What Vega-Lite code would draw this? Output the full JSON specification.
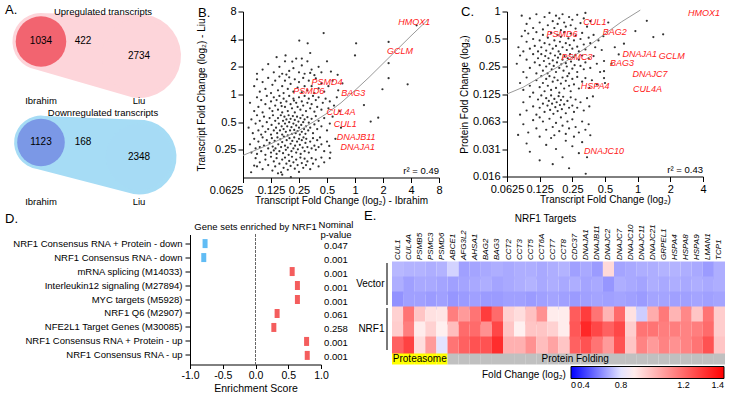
{
"$schema": "https://vega.github.io/schema/vega-lite/v6.json",
"background": "white",
"padding": {"left": 4, "top": 3.5, "right": 0, "bottom": 0},
"config": {
 "font": "Liberation Sans",
 "view": {"stroke": null},
 "axis": {"grid": false, "domainColor": "#000", "tickColor": "#000", "labelColor": "#000", "titleColor": "#000", "titleFontWeight": "normal", "labelFontSize": 11, "titleFontSize": 10, "tickSize": 5, "labelOverlap": false, "labelFlush": false},
 "title": {"fontWeight": "normal", "fontSize": 13, "color": "#000"},
 "legend": {"titleFontWeight": "normal", "titleColor": "#000", "labelColor": "#000"}
},
"datasets": {
 "venn": [
  {"dir": "Up", "set": "Ibrahim", "total": 1456, "only": 1034},
  {"dir": "Up", "set": "Liu", "total": 3156, "only": 2734},
  {"dir": "Down", "set": "Ibrahim", "total": 1291, "only": 1123},
  {"dir": "Down", "set": "Liu", "total": 2516, "only": 2348}
 ],
 "overlap": [{"dir": "Up", "n": 422}, {"dir": "Down", "n": 168}],
 "vennTitles": [{"dir": "Up", "title": "Upregulated transcripts"}, {"dir": "Down", "title": "Downregulated transcripts"}],
 "ptsB": [
  {"x":-1.12,"y":2.22},{"x":-1.99,"y":1.95},{"x":-1.69,"y":1.85},{"x":0.04,"y":1.85},{"x":1.2,"y":1.9},{"x":-2.48,"y":1.41},{"x":-2.24,"y":1.19},{"x":0.0,"y":1.41},{"x":1.2,"y":1.13},{"x":-1.6,"y":1.5},{"x":-1.9,"y":1.3},{"x":2.2,"y":2.5},{"x":1.2,"y":0.59},{"x":1.88,"y":0.37},{"x":0.98,"y":0.19},
  {"x":-3.3,"y":0.9},{"x":-3.1,"y":1.1},{"x":-2.9,"y":0.8},{"x":-2.7,"y":1.0},{"x":-2.6,"y":0.75},{"x":-2.5,"y":1.2},{"x":-2.35,"y":0.85},{"x":-2.2,"y":0.95},{"x":-2.1,"y":1.3},{"x":-2.0,"y":0.8},{"x":-1.9,"y":1.05},{"x":-1.8,"y":0.75},{"x":-1.7,"y":1.2},{"x":-1.55,"y":0.9},{"x":-1.45,"y":0.7},{"x":-1.3,"y":1.0},{"x":-1.2,"y":0.8},{"x":-0.86,"y":0.83},{"x":-0.62,"y":0.71},{"x":-1.0,"y":1.2},{"x":-2.8,"y":1.35},{"x":-3.5,"y":0.75},{"x":-2.45,"y":0.72},{"x":-1.6,"y":0.78},
  {"x":-3.6,"y":0.3},{"x":-3.5,"y":0.55},{"x":-3.4,"y":0.1},{"x":-3.3,"y":0.45},{"x":-3.2,"y":0.2},{"x":-3.1,"y":0.6},{"x":-3.0,"y":0.05},{"x":-2.95,"y":0.35},{"x":-2.85,"y":0.5},{"x":-2.75,"y":0.15},{"x":-2.7,"y":0.65},{"x":-2.6,"y":0.3},{"x":-2.55,"y":0.05},{"x":-2.5,"y":0.5},{"x":-2.4,"y":0.2},{"x":-2.35,"y":0.62},{"x":-2.3,"y":0.38},{"x":-2.2,"y":0.1},{"x":-2.15,"y":0.55},{"x":-2.05,"y":0.25},{"x":-2.0,"y":0.45},{"x":-1.9,"y":0.08},{"x":-1.85,"y":0.6},{"x":-1.8,"y":0.3},{"x":-1.7,"y":0.15},{"x":-1.65,"y":0.5},{"x":-1.55,"y":0.3},{"x":-1.45,"y":0.05},{"x":-1.4,"y":0.58},{"x":-1.3,"y":0.22},{"x":-1.2,"y":0.4},{"x":-1.1,"y":0.1},{"x":-0.95,"y":0.3},{"x":-0.8,"y":0.5},{"x":-0.6,"y":0.15},{"x":-0.45,"y":0.4},
  {"x":-3.75,"y":-0.3},{"x":-3.6,"y":-0.6},{"x":-3.5,"y":-0.1},{"x":-3.45,"y":-0.45},{"x":-3.35,"y":-0.2},{"x":-3.3,"y":-0.65},{"x":-3.2,"y":-0.35},{"x":-3.15,"y":-0.05},{"x":-3.05,"y":-0.5},{"x":-3.0,"y":-0.25},{"x":-2.95,"y":-0.6},{"x":-2.9,"y":-0.1},{"x":-2.85,"y":-0.4},{"x":-2.8,"y":-0.2},{"x":-2.75,"y":-0.55},{"x":-2.7,"y":-0.05},{"x":-2.65,"y":-0.3},{"x":-2.6,"y":-0.65},{"x":-2.55,"y":-0.15},{"x":-2.5,"y":-0.45},{"x":-2.45,"y":-0.25},{"x":-2.4,"y":-0.6},{"x":-2.35,"y":-0.05},{"x":-2.3,"y":-0.35},{"x":-2.25,"y":-0.5},{"x":-2.2,"y":-0.15},{"x":-2.15,"y":-0.65},{"x":-2.1,"y":-0.3},{"x":-2.05,"y":-0.45},{"x":-2.0,"y":-0.1},{"x":-1.95,"y":-0.55},{"x":-1.9,"y":-0.25},{"x":-1.85,"y":-0.4},{"x":-1.8,"y":-0.05},{"x":-1.75,"y":-0.6},{"x":-1.7,"y":-0.3},{"x":-1.65,"y":-0.15},{"x":-1.6,"y":-0.5},{"x":-1.55,"y":-0.35},{"x":-1.5,"y":-0.05},{"x":-1.45,"y":-0.62},{"x":-1.4,"y":-0.2},{"x":-1.35,"y":-0.45},{"x":-1.3,"y":-0.1},{"x":-1.2,"y":-0.55},{"x":-1.15,"y":-0.3},{"x":-1.05,"y":-0.15},{"x":-0.95,"y":-0.5},{"x":-0.9,"y":-0.25},{"x":-0.75,"y":-0.4},{"x":-0.65,"y":-0.1},{"x":0.32,"y":-0.38},{"x":-0.55,"y":-0.6},{"x":-2.62,"y":-0.42},{"x":-2.18,"y":-0.22},
  {"x":-3.8,"y":-1.2},{"x":-3.7,"y":-0.9},{"x":-3.65,"y":-1.4},{"x":-3.55,"y":-1.05},{"x":-3.5,"y":-0.75},{"x":-3.45,"y":-1.3},{"x":-3.4,"y":-0.95},{"x":-3.35,"y":-1.45},{"x":-3.3,"y":-1.15},{"x":-3.25,"y":-0.8},{"x":-3.2,"y":-1.35},{"x":-3.15,"y":-1.0},{"x":-3.1,"y":-1.25},{"x":-3.05,"y":-0.85},{"x":-3.0,"y":-1.45},{"x":-2.98,"y":-1.1},{"x":-2.93,"y":-0.75},{"x":-2.9,"y":-1.3},{"x":-2.85,"y":-0.95},{"x":-2.82,"y":-1.2},{"x":-2.78,"y":-1.4},{"x":-2.75,"y":-0.85},{"x":-2.72,"y":-1.05},{"x":-2.68,"y":-1.3},{"x":-2.65,"y":-0.75},{"x":-2.62,"y":-1.15},{"x":-2.6,"y":-1.45},{"x":-2.57,"y":-0.95},{"x":-2.55,"y":-1.25},{"x":-2.52,"y":-0.8},{"x":-2.5,"y":-1.05},{"x":-2.47,"y":-1.35},{"x":-2.45,"y":-0.9},{"x":-2.42,"y":-1.15},{"x":-2.4,"y":-1.48},{"x":-2.37,"y":-0.75},{"x":-2.35,"y":-1.0},{"x":-2.32,"y":-1.3},{"x":-2.3,"y":-0.88},{"x":-2.27,"y":-1.18},{"x":-2.25,"y":-1.42},{"x":-2.22,"y":-0.78},{"x":-2.2,"y":-1.05},{"x":-2.17,"y":-1.28},{"x":-2.15,"y":-0.92},{"x":-2.12,"y":-1.4},{"x":-2.1,"y":-1.12},{"x":-2.07,"y":-0.8},{"x":-2.05,"y":-1.32},{"x":-2.02,"y":-0.98},{"x":-2.0,"y":-1.2},{"x":-1.97,"y":-1.45},{"x":-1.95,"y":-0.85},{"x":-1.92,"y":-1.1},{"x":-1.9,"y":-1.35},{"x":-1.87,"y":-0.75},{"x":-1.85,"y":-1.0},{"x":-1.82,"y":-1.25},{"x":-1.8,"y":-0.9},{"x":-1.77,"y":-1.42},{"x":-1.75,"y":-1.15},{"x":-1.7,"y":-0.82},{"x":-1.67,"y":-1.3},{"x":-1.65,"y":-1.02},{"x":-1.6,"y":-1.2},{"x":-1.55,"y":-0.88},{"x":-1.5,"y":-1.4},{"x":-1.45,"y":-1.08},{"x":-1.4,"y":-0.78},{"x":-1.35,"y":-1.25},{"x":-1.3,"y":-0.95},{"x":-1.2,"y":-1.15},{"x":-1.1,"y":-0.85},{"x":-1.0,"y":-1.3},{"x":-0.9,"y":-1.05},{"x":-0.8,"y":-0.8},{"x":0.83,"y":-0.84},{"x":0.56,"y":-0.98},{"x":-0.5,"y":-1.2},
  {"x":-3.75,"y":-1.8},{"x":-3.7,"y":-2.1},{"x":-3.6,"y":-1.6},{"x":-3.55,"y":-1.95},{"x":-3.5,"y":-2.15},{"x":-3.45,"y":-1.7},{"x":-3.4,"y":-1.9},{"x":-3.35,"y":-2.05},{"x":-3.3,"y":-1.55},{"x":-3.25,"y":-1.85},{"x":-3.2,"y":-2.18},{"x":-3.15,"y":-1.65},{"x":-3.1,"y":-1.95},{"x":-3.05,"y":-1.75},{"x":-3.0,"y":-2.1},{"x":-2.97,"y":-1.58},{"x":-2.94,"y":-1.88},{"x":-2.9,"y":-2.02},{"x":-2.87,"y":-1.68},{"x":-2.84,"y":-1.95},{"x":-2.8,"y":-2.15},{"x":-2.77,"y":-1.55},{"x":-2.74,"y":-1.8},{"x":-2.7,"y":-2.05},{"x":-2.67,"y":-1.62},{"x":-2.64,"y":-1.9},{"x":-2.6,"y":-1.72},{"x":-2.57,"y":-2.12},{"x":-2.54,"y":-1.52},{"x":-2.5,"y":-1.85},{"x":-2.47,"y":-2.0},{"x":-2.44,"y":-1.65},{"x":-2.4,"y":-1.92},{"x":-2.37,"y":-2.18},{"x":-2.34,"y":-1.58},{"x":-2.3,"y":-1.78},{"x":-2.27,"y":-2.05},{"x":-2.24,"y":-1.68},{"x":-2.2,"y":-1.95},{"x":-2.17,"y":-1.55},{"x":-2.14,"y":-1.85},{"x":-2.1,"y":-2.1},{"x":-2.07,"y":-1.7},{"x":-2.04,"y":-1.98},{"x":-2.0,"y":-1.6},{"x":-1.97,"y":-1.82},{"x":-1.94,"y":-2.15},{"x":-1.9,"y":-1.65},{"x":-1.87,"y":-1.92},{"x":-1.84,"y":-1.55},{"x":-1.8,"y":-2.05},{"x":-1.77,"y":-1.75},{"x":-1.74,"y":-1.6},{"x":-1.7,"y":-1.9},{"x":-1.65,"y":-2.1},{"x":-1.6,"y":-1.7},{"x":-1.55,"y":-1.95},{"x":-1.5,"y":-1.58},{"x":-1.45,"y":-1.85},{"x":-1.4,"y":-2.0},{"x":-1.35,"y":-1.65},{"x":-1.3,"y":-1.9},{"x":-1.25,"y":-1.55},{"x":-1.2,"y":-1.8},{"x":-1.1,"y":-2.05},{"x":-1.0,"y":-1.7},{"x":-0.92,"y":-1.86},{"x":-0.88,"y":-2.1},{"x":-0.7,"y":-1.6},
  {"x":-3.71,"y":-2.81},{"x":-3.6,"y":-2.57},{"x":-3.55,"y":-2.3},{"x":-3.4,"y":-2.45},{"x":-3.3,"y":-2.7},{"x":-3.2,"y":-2.35},{"x":-3.1,"y":-2.55},{"x":-3.0,"y":-2.25},{"x":-2.95,"y":-2.75},{"x":-2.9,"y":-2.42},{"x":-2.85,"y":-2.6},{"x":-2.8,"y":-2.3},{"x":-2.75,"y":-2.85},{"x":-2.7,"y":-2.5},{"x":-2.64,"y":-2.81},{"x":-2.6,"y":-2.35},{"x":-2.55,"y":-2.65},{"x":-2.5,"y":-2.28},{"x":-2.45,"y":-2.5},{"x":-2.4,"y":-2.72},{"x":-2.35,"y":-2.4},{"x":-2.3,"y":-2.58},{"x":-2.29,"y":-2.99},{"x":-2.25,"y":-2.25},{"x":-2.2,"y":-2.45},{"x":-2.15,"y":-2.68},{"x":-2.1,"y":-2.35},{"x":-2.05,"y":-2.55},{"x":-2.0,"y":-2.8},{"x":-1.95,"y":-2.28},{"x":-1.9,"y":-2.48},{"x":-1.85,"y":-2.65},{"x":-1.8,"y":-2.32},{"x":-1.75,"y":-2.55},{"x":-1.7,"y":-2.42},{"x":-1.6,"y":-2.7},{"x":-1.55,"y":-2.3},{"x":-1.5,"y":-2.5},{"x":-1.4,"y":-2.35},{"x":-1.3,"y":-2.6},{"x":-1.2,"y":-2.28},{"x":-1.1,"y":-2.45},{"x":-0.9,"y":-2.3},{"x":-3.5,"y":-2.6},{"x":-2.6,"y":-2.9}
 ],
 "lineB": [{"x":-4,"y":-2.2},{"x":-3,"y":-1.78},{"x":-2,"y":-1.3},{"x":-1.5,"y":-1.0},{"x":-1,"y":-0.68},{"x":-0.5,"y":-0.3},{"x":0,"y":0.15},{"x":0.5,"y":0.62},{"x":1,"y":1.12},{"x":1.5,"y":1.62},{"x":2,"y":2.12},{"x":2.6,"y":2.7}],
 "labB": [
  {"gene":"HMOX1","x":2.12,"y":2.62},{"gene":"GCLM","x":1.61,"y":1.59},{"gene":"PSMD4","x":-1.0,"y":0.46},{"gene":"PSMD6","x":-1.65,"y":0.12},{"gene":"BAG3","x":-0.06,"y":0.04},{"gene":"CUL4A","x":-0.5,"y":-0.62},{"gene":"CUL1","x":-0.35,"y":-1.08},{"gene":"DNAJB11","x":0.04,"y":-1.53},{"gene":"DNAJA1","x":0.1,"y":-1.89}
 ],
 "ptsC": [
  {"x":-3.55,"y":-0.15},{"x":-3.4,"y":-0.45},{"x":-3.3,"y":-0.25},{"x":-3.2,"y":-0.6},{"x":-3.1,"y":-0.1},{"x":-3.0,"y":-0.4},{"x":-2.9,"y":-0.65},{"x":-2.85,"y":-0.2},{"x":-2.75,"y":-0.5},{"x":-2.7,"y":-0.05},{"x":-2.6,"y":-0.35},{"x":-2.55,"y":-0.6},{"x":-2.5,"y":-0.15},{"x":-2.45,"y":-0.45},{"x":-2.4,"y":-0.25},{"x":-2.35,"y":-0.68},{"x":-2.3,"y":-0.1},{"x":-2.25,"y":-0.4},{"x":-2.2,"y":-0.55},{"x":-2.1,"y":-0.2},{"x":-2.05,"y":-0.5},{"x":-2.0,"y":-0.3},{"x":-1.9,"y":-0.62},{"x":-1.85,"y":-0.12},{"x":-1.75,"y":-0.42},{"x":-1.65,"y":-0.25},{"x":-1.55,"y":-0.55},{"x":-1.45,"y":-0.35},{"x":-1.6,"y":-0.05},{"x":-3.45,"y":-0.7},
  {"x":-3.65,"y":-1.3},{"x":-3.55,"y":-0.9},{"x":-3.5,"y":-1.45},{"x":-3.4,"y":-1.1},{"x":-3.35,"y":-0.8},{"x":-3.3,"y":-1.35},{"x":-3.2,"y":-1.0},{"x":-3.15,"y":-1.25},{"x":-3.1,"y":-0.75},{"x":-3.05,"y":-1.45},{"x":-3.0,"y":-1.05},{"x":-2.95,"y":-1.3},{"x":-2.9,"y":-0.85},{"x":-2.85,"y":-1.15},{"x":-2.8,"y":-1.42},{"x":-2.75,"y":-0.95},{"x":-2.7,"y":-1.2},{"x":-2.65,"y":-0.78},{"x":-2.6,"y":-1.35},{"x":-2.55,"y":-1.05},{"x":-2.5,"y":-1.25},{"x":-2.45,"y":-0.85},{"x":-2.42,"y":-1.45},{"x":-2.38,"y":-1.1},{"x":-2.35,"y":-0.92},{"x":-2.3,"y":-1.3},{"x":-2.25,"y":-0.75},{"x":-2.2,"y":-1.15},{"x":-2.17,"y":-1.4},{"x":-2.12,"y":-0.98},{"x":-2.08,"y":-1.22},{"x":-2.05,"y":-0.8},{"x":-2.0,"y":-1.35},{"x":-1.95,"y":-1.05},{"x":-1.9,"y":-0.88},{"x":-1.85,"y":-1.28},{"x":-1.8,"y":-1.45},{"x":-1.75,"y":-1.0},{"x":-1.7,"y":-0.78},{"x":-1.65,"y":-1.2},{"x":-1.6,"y":-1.38},{"x":-1.5,"y":-0.95},{"x":-1.45,"y":-1.15},{"x":-1.35,"y":-0.85},{"x":-1.3,"y":-1.3},{"x":-1.2,"y":-1.05},{"x":-1.1,"y":-1.4},{"x":-1.05,"y":-0.9},{"x":-0.9,"y":-0.4},{"x":-0.7,"y":-1.3},{"x":-0.42,"y":-1.17},{"x":-0.07,"y":-0.71},{"x":0.28,"y":-0.34},{"x":0.48,"y":-0.93},{"x":0.78,"y":-0.83},
  {"x":-3.7,"y":-1.9},{"x":-3.6,"y":-1.6},{"x":-3.5,"y":-2.2},{"x":-3.4,"y":-1.75},{"x":-3.3,"y":-2.05},{"x":-3.2,"y":-1.55},{"x":-3.15,"y":-1.85},{"x":-3.1,"y":-2.25},{"x":-3.05,"y":-1.7},{"x":-3.0,"y":-1.95},{"x":-2.95,"y":-1.55},{"x":-2.9,"y":-2.15},{"x":-2.87,"y":-1.8},{"x":-2.83,"y":-1.62},{"x":-2.8,"y":-2.0},{"x":-2.76,"y":-2.25},{"x":-2.73,"y":-1.7},{"x":-2.7,"y":-1.9},{"x":-2.67,"y":-1.52},{"x":-2.63,"y":-2.1},{"x":-2.6,"y":-1.78},{"x":-2.57,"y":-1.98},{"x":-2.53,"y":-1.6},{"x":-2.5,"y":-2.2},{"x":-2.47,"y":-1.85},{"x":-2.44,"y":-1.68},{"x":-2.4,"y":-2.05},{"x":-2.37,"y":-1.55},{"x":-2.34,"y":-1.92},{"x":-2.3,"y":-1.75},{"x":-2.27,"y":-2.15},{"x":-2.24,"y":-1.62},{"x":-2.2,"y":-1.88},{"x":-2.17,"y":-2.0},{"x":-2.14,"y":-1.7},{"x":-2.1,"y":-2.25},{"x":-2.07,"y":-1.55},{"x":-2.04,"y":-1.82},{"x":-2.0,"y":-2.08},{"x":-1.97,"y":-1.65},{"x":-1.93,"y":-1.95},{"x":-1.9,"y":-1.58},{"x":-1.85,"y":-2.2},{"x":-1.8,"y":-1.75},{"x":-1.75,"y":-1.98},{"x":-1.7,"y":-1.6},{"x":-1.65,"y":-2.1},{"x":-1.6,"y":-1.85},{"x":-1.5,"y":-1.7},{"x":-1.45,"y":-2.05},{"x":-1.35,"y":-1.62},{"x":-1.25,"y":-1.9},{"x":-1.15,"y":-2.2},{"x":-1.03,"y":-1.8},{"x":-1.03,"y":-2.17},{"x":-0.58,"y":-1.56},{"x":-0.8,"y":-1.9},
  {"x":-3.6,"y":-2.6},{"x":-3.5,"y":-2.85},{"x":-3.4,"y":-2.4},{"x":-3.3,"y":-2.7},{"x":-3.2,"y":-2.95},{"x":-3.1,"y":-2.5},{"x":-3.0,"y":-2.75},{"x":-2.95,"y":-2.35},{"x":-2.9,"y":-2.6},{"x":-2.85,"y":-2.9},{"x":-2.8,"y":-2.45},{"x":-2.75,"y":-2.7},{"x":-2.7,"y":-2.35},{"x":-2.65,"y":-2.85},{"x":-2.6,"y":-2.55},{"x":-2.55,"y":-2.4},{"x":-2.5,"y":-2.78},{"x":-2.45,"y":-2.5},{"x":-2.4,"y":-2.95},{"x":-2.35,"y":-2.62},{"x":-2.3,"y":-2.4},{"x":-2.25,"y":-2.8},{"x":-2.2,"y":-2.52},{"x":-2.15,"y":-2.35},{"x":-2.1,"y":-2.7},{"x":-2.05,"y":-2.9},{"x":-2.0,"y":-2.45},{"x":-1.95,"y":-2.65},{"x":-1.85,"y":-2.38},{"x":-1.8,"y":-2.8},{"x":-1.7,"y":-2.55},{"x":-1.6,"y":-2.42},{"x":-1.48,"y":-2.78},{"x":-1.4,"y":-2.5},{"x":-1.25,"y":-2.65},{"x":-1.03,"y":-2.42},{"x":-1.0,"y":-2.6},
  {"x":-3.5,"y":-3.3},{"x":-3.4,"y":-3.6},{"x":-3.3,"y":-3.1},{"x":-3.2,"y":-3.45},{"x":-3.1,"y":-3.75},{"x":-3.05,"y":-3.2},{"x":-3.0,"y":-3.5},{"x":-2.95,"y":-3.05},{"x":-2.9,"y":-3.35},{"x":-2.85,"y":-3.65},{"x":-2.8,"y":-3.15},{"x":-2.76,"y":-3.42},{"x":-2.72,"y":-3.25},{"x":-2.68,"y":-3.58},{"x":-2.65,"y":-3.05},{"x":-2.62,"y":-3.35},{"x":-2.58,"y":-3.72},{"x":-2.55,"y":-3.18},{"x":-2.52,"y":-3.48},{"x":-2.48,"y":-3.3},{"x":-2.45,"y":-3.62},{"x":-2.42,"y":-3.08},{"x":-2.38,"y":-3.4},{"x":-2.35,"y":-3.22},{"x":-2.32,"y":-3.55},{"x":-2.28,"y":-3.1},{"x":-2.25,"y":-3.38},{"x":-2.2,"y":-3.7},{"x":-2.15,"y":-3.25},{"x":-2.1,"y":-3.5},{"x":-2.05,"y":-3.12},{"x":-2.0,"y":-3.42},{"x":-1.95,"y":-3.65},{"x":-1.9,"y":-3.2},{"x":-1.85,"y":-3.5},{"x":-1.75,"y":-3.3},{"x":-1.65,"y":-3.6},{"x":-1.55,"y":-3.15},{"x":-1.37,"y":-3.09},{"x":-1.48,"y":-3.45},{"x":-3.6,"y":-3.75},
  {"x":-3.66,"y":-4.49},{"x":-3.5,"y":-4.1},{"x":-3.35,"y":-4.4},{"x":-3.2,"y":-3.95},{"x":-3.1,"y":-4.25},{"x":-3.0,"y":-4.55},{"x":-2.9,"y":-4.0},{"x":-2.8,"y":-4.3},{"x":-2.7,"y":-3.9},{"x":-2.6,"y":-4.2},{"x":-2.55,"y":-4.5},{"x":-2.5,"y":-4.05},{"x":-2.4,"y":-4.35},{"x":-2.35,"y":-3.85},{"x":-2.3,"y":-4.15},{"x":-2.2,"y":-4.45},{"x":-2.15,"y":-4.0},{"x":-2.1,"y":-4.25},{"x":-2.0,"y":-3.92},{"x":-1.95,"y":-4.55},{"x":-1.9,"y":-4.2},{"x":-1.8,"y":-4.4},{"x":-1.7,"y":-4.0},{"x":-1.6,"y":-4.3},{"x":-1.5,"y":-4.1},{"x":-1.45,"y":-4.5},{"x":-2.65,"y":-4.6},{"x":-3.0,"y":-3.85},
  {"x":-3.3,"y":-5.1},{"x":-3.0,"y":-5.41},{"x":-2.1,"y":-5.7},{"x":-1.59,"y":-5.9},{"x":-2.8,"y":-4.85},{"x":-2.5,"y":-5.0},{"x":-2.3,"y":-5.3},{"x":-2.0,"y":-4.9},{"x":-1.8,"y":-5.15},{"x":-1.7,"y":-4.75},{"x":-3.4,"y":-4.8},{"x":-2.6,"y":-5.55},{"x":-1.55,"y":-5.3},{"x":-2.2,"y":-4.7}
 ],
 "lineC": [{"x":-4,"y":-3.0},{"x":-3.5,"y":-2.75},{"x":-3,"y":-2.4},{"x":-2.5,"y":-2.05},{"x":-2,"y":-1.66},{"x":-1.5,"y":-1.25},{"x":-1,"y":-0.81},{"x":-0.5,"y":-0.38},{"x":0.08,"y":0.05}],
 "labC": [
  {"gene":"HMOX1","x":2.03,"y":-0.07},{"gene":"CUL1","x":-1.31,"y":-0.38},{"gene":"PSMD6","x":-2.32,"y":-0.83},{"gene":"BAG2","x":-0.7,"y":-0.74},{"gene":"PSMC3","x":-1.86,"y":-1.65},{"gene":"DNAJA1","x":0.06,"y":-1.53},{"gene":"GCLM","x":1.04,"y":-1.62},{"gene":"BAG3","x":-0.48,"y":-1.87},{"gene":"DNAJC7","x":0.38,"y":-2.26},{"gene":"HSPA4","x":-1.3,"y":-2.7},{"gene":"CUL4A","x":0.3,"y":-2.81},{"gene":"DNAJC10","x":-1.03,"y":-5.07}
 ],
 "gsea": [
  {"set":"NRF1 Consensus RNA + Protein - down","score":-0.77,"p":"0.047","dir":"down"},
  {"set":"NRF1 Consensus RNA - down","score":-0.79,"p":"0.001","dir":"down"},
  {"set":"mRNA splicing (M14033)","score":0.56,"p":"0.001","dir":"up"},
  {"set":"Interleukin12 signaling (M27894)","score":0.64,"p":"0.001","dir":"up"},
  {"set":"MYC targets (M5928)","score":0.64,"p":"0.001","dir":"up"},
  {"set":"NRF1 Q6 (M2907)","score":0.33,"p":"0.061","dir":"up"},
  {"set":"NFE2L1 Target Genes (M30085)","score":0.28,"p":"0.258","dir":"up"},
  {"set":"NRF1 Consensus RNA + Protein - up","score":0.78,"p":"0.001","dir":"up"},
  {"set":"NRF1 Consensus RNA - up","score":0.79,"p":"0.001","dir":"up"}
 ],
 "heat": [
  {"gene":"CUL1","group":"Proteasome","V1":0.72,"V2":0.70,"V3":0.64,"N1":0.97,"N2":0.98,"N3":1.22},
  {"gene":"CUL4A","group":"Proteasome","V1":0.71,"V2":0.67,"V3":0.67,"N1":1.18,"N2":1.16,"N3":1.28},
  {"gene":"PSMB5","group":"Proteasome","V1":0.71,"V2":0.69,"V3":0.67,"N1":1.0,"N2":0.9,"N3":0.94},
  {"gene":"PSMC3","group":"Proteasome","V1":0.70,"V2":0.69,"V3":0.66,"N1":0.93,"N2":0.97,"N3":1.1},
  {"gene":"PSMD6","group":"Proteasome","V1":0.71,"V2":0.68,"V3":0.67,"N1":0.92,"N2":0.89,"N3":0.8},
  {"gene":"ABCE1","group":"Protein Folding","V1":0.77,"V2":0.67,"V3":0.65,"N1":1.16,"N2":1.02,"N3":1.18},
  {"gene":"AFG3L2","group":"Protein Folding","V1":0.67,"V2":0.68,"V3":0.66,"N1":1.1,"N2":1.2,"N3":1.22},
  {"gene":"AHSA1","group":"Protein Folding","V1":0.68,"V2":0.69,"V3":0.67,"N1":1.18,"N2":1.2,"N3":1.25},
  {"gene":"BAG2","group":"Protein Folding","V1":0.69,"V2":0.70,"V3":0.66,"N1":1.29,"N2":1.12,"N3":1.25},
  {"gene":"BAG3","group":"Protein Folding","V1":0.70,"V2":0.68,"V3":0.66,"N1":1.2,"N2":1.27,"N3":1.32},
  {"gene":"CCT2","group":"Protein Folding","V1":0.69,"V2":0.69,"V3":0.67,"N1":0.97,"N2":1.0,"N3":1.05},
  {"gene":"CCT3","group":"Protein Folding","V1":0.70,"V2":0.70,"V3":0.67,"N1":0.94,"N2":0.89,"N3":1.05},
  {"gene":"CCT5","group":"Protein Folding","V1":0.70,"V2":0.71,"V3":0.66,"N1":1.01,"N2":1.0,"N3":1.12},
  {"gene":"CCT6A","group":"Protein Folding","V1":0.69,"V2":0.69,"V3":0.67,"N1":1.12,"N2":1.0,"N3":1.02},
  {"gene":"CCT7","group":"Protein Folding","V1":0.70,"V2":0.70,"V3":0.68,"N1":0.9,"N2":0.97,"N3":1.08},
  {"gene":"CCT8","group":"Protein Folding","V1":0.71,"V2":0.69,"V3":0.67,"N1":0.9,"N2":0.9,"N3":1.0},
  {"gene":"CDC37","group":"Protein Folding","V1":0.67,"V2":0.70,"V3":0.66,"N1":1.23,"N2":1.24,"N3":1.22},
  {"gene":"DNAJA1","group":"Protein Folding","V1":0.69,"V2":0.68,"V3":0.67,"N1":1.29,"N2":1.33,"N3":1.25},
  {"gene":"DNAJB11","group":"Protein Folding","V1":0.66,"V2":0.69,"V3":0.68,"N1":1.18,"N2":1.27,"N3":1.18},
  {"gene":"DNAJC2","group":"Protein Folding","V1":0.95,"V2":0.65,"V3":0.67,"N1":1.04,"N2":1.22,"N3":1.1},
  {"gene":"DNAJC7","group":"Protein Folding","V1":0.68,"V2":0.70,"V3":0.68,"N1":1.2,"N2":1.27,"N3":1.25},
  {"gene":"DNAJC10","group":"Protein Folding","V1":0.69,"V2":0.69,"V3":0.67,"N1":0.93,"N2":0.98,"N3":1.0},
  {"gene":"DNAJC11","group":"Protein Folding","V1":0.70,"V2":0.68,"V3":0.66,"N1":0.76,"N2":1.18,"N3":1.15},
  {"gene":"DNAJC21","group":"Protein Folding","V1":0.70,"V2":0.70,"V3":0.68,"N1":1.06,"N2":1.18,"N3":1.1},
  {"gene":"GRPEL1","group":"Protein Folding","V1":0.71,"V2":0.69,"V3":0.68,"N1":1.17,"N2":1.16,"N3":1.15},
  {"gene":"HSPA4","group":"Protein Folding","V1":0.71,"V2":0.70,"V3":0.67,"N1":1.04,"N2":1.16,"N3":1.12},
  {"gene":"HSPA8","group":"Protein Folding","V1":0.70,"V2":0.69,"V3":0.67,"N1":1.14,"N2":1.15,"N3":1.15},
  {"gene":"HSPA9","group":"Protein Folding","V1":0.69,"V2":0.70,"V3":0.68,"N1":1.0,"N2":1.16,"N3":1.18},
  {"gene":"LMAN1","group":"Protein Folding","V1":0.66,"V2":0.69,"V3":0.67,"N1":1.18,"N2":1.2,"N3":1.25},
  {"gene":"TCP1","group":"Protein Folding","V1":0.70,"V2":0.70,"V3":0.68,"N1":0.98,"N2":0.98,"N3":1.0}
 ]
},
"spacing": 223,
"bounds": "flush",
"resolve": {"scale": {"color": "independent", "size": "independent"}},
"vconcat": [
 {
  "hconcat": [
   {
    "width": 170, "height": 166,
    "resolve": {"scale": {"color": "independent", "size": "independent"}},
    "encoding": {
     "x": {"field": "set", "type": "nominal", "scale": {"type": "point", "domain": ["Ibrahim", "Liu"], "padding": 0.367}, "axis": null},
     "y": {"field": "dir", "type": "nominal", "scale": {"type": "band", "domain": ["Up", "Down"], "paddingInner": 0.856, "paddingOuter": 0.25, "align": 0.594}, "axis": null}
    },
    "layer": [
     {"data": {"name": "venn"}, "mark": {"type": "trail"},
      "encoding": {
       "yOffset": {"field": "set", "type": "nominal", "scale": {"domain": ["Ibrahim", "Liu"], "paddingInner": 0, "paddingOuter": 0}},
       "size": {"field": "total", "type": "quantitative", "scale": {"type": "sqrt", "domain": [0, 3156], "range": [0, 84]}, "legend": null},
       "color": {"field": "dir", "type": "nominal", "scale": {"domain": ["Up", "Down"], "range": ["#fdd5da", "#a6dcf5"]}, "legend": null}
      }},
     {"data": {"name": "venn"}, "transform": [{"filter": "datum.set == 'Ibrahim'"}],
      "mark": {"type": "circle", "opacity": 1},
      "encoding": {
       "yOffset": {"field": "set", "type": "nominal"},
       "size": {"field": "total", "type": "quantitative", "scale": {"domain": [0, 3156], "range": [0, 5542]}, "legend": null},
       "color": {"field": "dir", "type": "nominal", "scale": {"domain": ["Up", "Down"], "range": ["#f26470", "#7b98e6"]}, "legend": null}
      }},
     {"data": {"name": "venn"}, "transform": [{"filter": "datum.set == 'Liu'"}],
      "mark": {"type": "circle", "opacity": 0.53},
      "encoding": {
       "yOffset": {"field": "set", "type": "nominal"},
       "size": {"field": "total", "type": "quantitative", "scale": {"domain": [0, 3156], "range": [0, 5542]}, "legend": null},
       "color": {"field": "dir", "type": "nominal", "scale": {"domain": ["Up", "Down"], "range": ["#fdd5da", "#a6dcf5"]}, "legend": null}
      }},
     {"data": {"name": "venn"},
      "mark": {"type": "text", "fontSize": 10, "color": "#000"},
      "encoding": {"yOffset": {"field": "set", "type": "nominal"}, "text": {"field": "only"}}},
     {"data": {"name": "overlap"},
      "mark": {"type": "text", "fontSize": 10, "dx": -56, "dy": -8, "color": "#000"},
      "encoding": {"x": {"datum": "Liu"}, "text": {"field": "n"}}},
     {"data": {"name": "vennTitles"},
      "mark": {"type": "text", "fontSize": 9.5, "dx": -36, "dy": -37, "color": "#000"},
      "encoding": {"x": {"datum": "Liu"}, "text": {"field": "title"}}},
     {"data": {"name": "venn"},
      "mark": {"type": "text", "fontSize": 9.5, "dy": 52, "color": "#000"},
      "encoding": {"text": {"field": "set"}}},
     {"data": {"values": [{"panel": "A."}]},
      "mark": {"type": "text", "fontSize": 13, "align": "left", "baseline": "middle", "dx": -36, "dy": -38.5, "color": "#000"},
      "encoding": {"x": {"datum": "Ibrahim"}, "y": {"datum": "Up"}, "text": {"field": "panel"}}}
    ]
   },
   {
    "width": 196, "height": 166,
    "layer": [
     {"data": {"name": "ptsB"}, "mark": {"type": "circle", "size": 5, "color": "#333", "opacity": 1},
      "encoding": {
       "x": {"field": "x", "type": "quantitative", "scale": {"domain": [-4, 3], "nice": false, "zero": false},
             "axis": {"values": [-4, -3, -2, -1, 0, 1, 2, 3], "tickCount": 20, "labelOverlap": false, "labelExpr": "'' + pow(2, datum.value)", "title": "Transcript Fold Change (log₂) - Ibrahim", "titlePadding": 0, "labelAlign": {"condition": {"test": "datum.value == -4", "value": "right"}, "value": "center"}}},
       "y": {"field": "y", "type": "quantitative", "scale": {"domain": [-3, 3], "nice": false, "zero": false},
             "axis": {"values": [-2, -1, 0, 1, 2, 3], "tickCount": 20, "labelOverlap": false, "labelExpr": "'' + pow(2, datum.value)", "title": "Transcript Fold Change (log₂) - Liu", "titlePadding": 8}}
      }},
     {"data": {"name": "lineB"}, "mark": {"type": "line", "color": "#9a9a9a", "strokeWidth": 1},
      "encoding": {"x": {"field": "x", "type": "quantitative"}, "y": {"field": "y", "type": "quantitative"}}},
     {"data": {"name": "labB"}, "mark": {"type": "text", "color": "#ff2020", "fontStyle": "italic", "fontSize": 9},
      "encoding": {"x": {"field": "x", "type": "quantitative"}, "y": {"field": "y", "type": "quantitative"}, "text": {"field": "gene"}}},
     {"data": {"values": [{"r2": "r² = 0.49"}]}, "mark": {"type": "text", "align": "right", "baseline": "bottom", "fontSize": 9.5, "dy": -2, "color": "#000"},
      "encoding": {"x": {"datum": 3}, "y": {"datum": -3}, "text": {"field": "r2"}}},
     {"data": {"values": [{"panel": "B."}]}, "mark": {"type": "text", "align": "left", "baseline": "middle", "fontSize": 13, "dx": -45, "dy": 1, "color": "#000"},
      "encoding": {"x": {"datum": -4}, "y": {"datum": 3}, "text": {"field": "panel"}}}
    ]
   },
   {
    "width": 196, "height": 165,
    "layer": [
     {"data": {"name": "ptsC"}, "mark": {"type": "circle", "size": 5, "color": "#333", "opacity": 1},
      "encoding": {
       "x": {"field": "x", "type": "quantitative", "scale": {"domain": [-4, 2], "nice": false, "zero": false},
             "axis": {"values": [-4, -3, -2, -1, 0, 1, 2], "tickCount": 20, "labelOverlap": false, "labelExpr": "'' + pow(2, datum.value)", "title": "Transcript Fold Change (log₂)", "titlePadding": 0}},
       "y": {"field": "y", "type": "quantitative", "scale": {"domain": [-6, 0], "nice": false, "zero": false},
             "axis": {"values": [-6, -5, -4, -3, -2, -1, 0], "tickCount": 20, "labelOverlap": false, "labelExpr": "format(pow(2, datum.value), '.3~f')", "title": "Protein Fold Change (log₂)", "titlePadding": 3}}
      }},
     {"data": {"name": "lineC"}, "mark": {"type": "line", "color": "#9a9a9a", "strokeWidth": 1},
      "encoding": {"x": {"field": "x", "type": "quantitative"}, "y": {"field": "y", "type": "quantitative"}}},
     {"data": {"name": "labC"}, "mark": {"type": "text", "color": "#ff2020", "fontStyle": "italic", "fontSize": 9},
      "encoding": {"x": {"field": "x", "type": "quantitative"}, "y": {"field": "y", "type": "quantitative"}, "text": {"field": "gene"}}},
     {"data": {"values": [{"r2": "r² = 0.43"}]}, "mark": {"type": "text", "align": "right", "baseline": "bottom", "fontSize": 9.5, "dy": -2, "color": "#000"},
      "encoding": {"x": {"datum": 2}, "y": {"datum": -6}, "text": {"field": "r2"}}},
     {"data": {"values": [{"panel": "C."}]}, "mark": {"type": "text", "align": "left", "baseline": "middle", "fontSize": 13, "dx": -46, "dy": 0, "color": "#000"},
      "encoding": {"x": {"datum": -4}, "y": {"datum": 0}, "text": {"field": "panel"}}}
    ]
   }
  ],
  "spacing": 68,
  "bounds": "flush",
  "resolve": {"scale": {"color": "independent", "size": "independent"}}
 },
 {
  "hconcat": [
   {
    "width": 114, "height": 1,
    "data": {"values": [{}]},
    "mark": {"type": "point", "opacity": 0},
    "encoding": {}
   },
   {
    "width": 131, "height": 130,
    "data": {"name": "gsea"},
    "layer": [
     {"mark": {"type": "tick", "orient": "vertical", "thickness": 5, "size": 9},
      "encoding": {
       "x": {"field": "score", "type": "quantitative", "scale": {"domain": [-1, 1], "nice": false},
             "axis": {"values": [-1, -0.5, 0, 0.5, 1], "tickCount": 20, "tickMinStep": 0.5, "labelOverlap": false, "labelExpr": "(datum.value < 0 ? '-' : '') + format(abs(datum.value), '.1f')", "title": "Enrichment Score", "titleFontSize": 10.5, "labelFontSize": 10.5, "tickSize": 4, "titlePadding": 2}},
       "y": {"field": "set", "type": "nominal", "sort": null, "scale": {"paddingInner": 0, "paddingOuter": 0.15},
             "axis": {"title": null, "labelFontSize": 9.5, "tickSize": 5, "labelPadding": 3, "labelLimit": 300}},
       "color": {"field": "dir", "type": "nominal", "scale": {"domain": ["down", "up"], "range": ["#1e9ff0", "#f01818"]}, "legend": null}
      }},
     {"mark": {"type": "rule", "strokeDash": [2, 2], "color": "#666", "strokeWidth": 0.8},
      "encoding": {"x": {"datum": 0, "type": "quantitative"}}},
     {"mark": {"type": "text", "dx": 15, "dy": 2, "fontSize": 9.5, "color": "#000"},
      "encoding": {"x": {"datum": 1, "type": "quantitative"}, "y": {"field": "set", "type": "nominal", "sort": null}, "text": {"field": "p"}}},
     {"data": {"values": [{"h": "Nominal"}]}, "mark": {"type": "text", "dx": 15, "dy": -19, "fontSize": 9.5, "color": "#000"},
      "encoding": {"x": {"datum": 1, "type": "quantitative"}, "y": {"datum": "NRF1 Consensus RNA + Protein - down"}, "text": {"field": "h"}}},
     {"data": {"values": [{"h": "p-value"}]}, "mark": {"type": "text", "dx": 15, "dy": -8.5, "fontSize": 9.5, "color": "#000"},
      "encoding": {"x": {"datum": 1, "type": "quantitative"}, "y": {"datum": "NRF1 Consensus RNA + Protein - down"}, "text": {"field": "h"}}},
     {"data": {"values": [{"h": "Gene sets enriched by NRF1"}]}, "mark": {"type": "text", "dy": -17, "fontSize": 9.5, "color": "#000"},
      "encoding": {"x": {"datum": 0, "type": "quantitative"}, "y": {"datum": "NRF1 Consensus RNA + Protein - down"}, "text": {"field": "h"}}},
     {"data": {"values": [{"h": "D."}]}, "mark": {"type": "text", "align": "left", "baseline": "middle", "dx": -185, "dy": -25, "fontSize": 13, "color": "#000"},
      "encoding": {"x": {"datum": -1, "type": "quantitative"}, "y": {"datum": "NRF1 Consensus RNA + Protein - down"}, "text": {"field": "h"}}}
    ]
   },
   {
    "vconcat": [
     {
      "width": 333, "height": 25,
      "data": {"values": [{}]},
      "mark": {"type": "point", "opacity": 0},
      "encoding": {}
     },
     {
      "width": 333, "height": 90,
      "layer": [
       {"data": {"name": "heat"},
        "transform": [{"fold": ["V1", "V2", "V3", "N1", "N2", "N3"], "as": ["row", "value"]}],
        "mark": {"type": "rect"},
        "encoding": {
         "x": {"field": "gene", "type": "nominal", "sort": null, "scale": {"paddingInner": 0, "paddingOuter": 0},
               "axis": {"orient": "top", "title": "NRF1 Targets", "titleFontSize": 10, "titleX": 153, "titleY": -38, "titleBaseline": "bottom", "labelAngle": -90, "labelAlign": "left", "labelBaseline": "middle", "labelFontStyle": "italic", "labelFontSize": 8, "ticks": false, "domain": false, "labelPadding": 2}},
         "y": {"field": "row", "type": "nominal", "sort": ["V1", "V2", "V3", "N1", "N2", "N3"], "scale": {"paddingInner": 0, "paddingOuter": 0},
               "axis": {"title": null, "ticks": false, "domain": false, "labelFontSize": 10, "labelPadding": 8, "labelExpr": "datum.value == 'V2' ? 'Vector' : datum.value == 'N2' ? 'NRF1' : ''"}},
         "color": {"field": "value", "type": "quantitative",
                   "scale": {"type": "pow", "exponent": 2, "domain": [0, 0.847, 1.4], "range": ["#0000ff", "#ffffff", "#ff0000"], "interpolate": "rgb"},
                   "legend": {"orient": "none", "legendX": 90, "legendY": 105, "direction": "horizontal", "title": "Fold Change (log₂)", "titleOrient": "left", "titleAnchor": "end", "titleBaseline": "bottom", "titleFontSize": 10, "titlePadding": 5, "gradientLength": 153, "gradientThickness": 12, "gradientStrokeColor": "#000", "gradientStrokeWidth": 1, "values": [0, 0.4, 0.8, 1.2, 1.4], "format": ".1~f", "labelOverlap": false, "labelFontSize": 9}}
        }},
       {"data": {"values": [{"row": "V2"}, {"row": "N2"}]},
        "mark": {"type": "tick", "orient": "vertical", "thickness": 1.5, "size": 42, "color": "#000", "xOffset": -5},
        "encoding": {"x": {"datum": "CUL1", "bandPosition": 0}, "y": {"field": "row", "type": "nominal", "sort": ["V1", "V2", "V3", "N1", "N2", "N3"]}}},
       {"data": {"values": [{"h": "E."}]},
        "mark": {"type": "text", "align": "left", "baseline": "middle", "dx": -33.5, "dy": -53.5, "fontSize": 13, "color": "#000"},
        "encoding": {"x": {"datum": "CUL1"}, "y": {"datum": "V1"}, "text": {"field": "h"}}}
      ]
     },
     {
      "width": 333, "height": 11,
      "data": {"name": "heat"},
      "layer": [
       {"mark": {"type": "rect"},
        "encoding": {
         "x": {"field": "gene", "type": "nominal", "sort": null, "scale": {"paddingInner": 0, "paddingOuter": 0}, "axis": null},
         "color": {"field": "group", "type": "nominal", "scale": {"domain": ["Proteasome", "Protein Folding"], "range": ["#ffff00", "#c0c0c0"]}, "legend": null}
        }},
       {"transform": [{"filter": "datum.gene == 'PSMB5' || datum.gene == 'CDC37'"}],
        "mark": {"type": "text", "fontSize": 10, "baseline": "middle", "color": "#000"},
        "encoding": {"x": {"field": "gene", "type": "nominal", "sort": null}, "text": {"field": "group"}}}
      ]
     }
    ],
    "spacing": 2,
    "bounds": "flush",
    "resolve": {"scale": {"color": "independent"}}
   }
  ],
  "spacing": 71,
  "bounds": "flush",
  "resolve": {"scale": {"color": "independent"}}
 }
]
}
